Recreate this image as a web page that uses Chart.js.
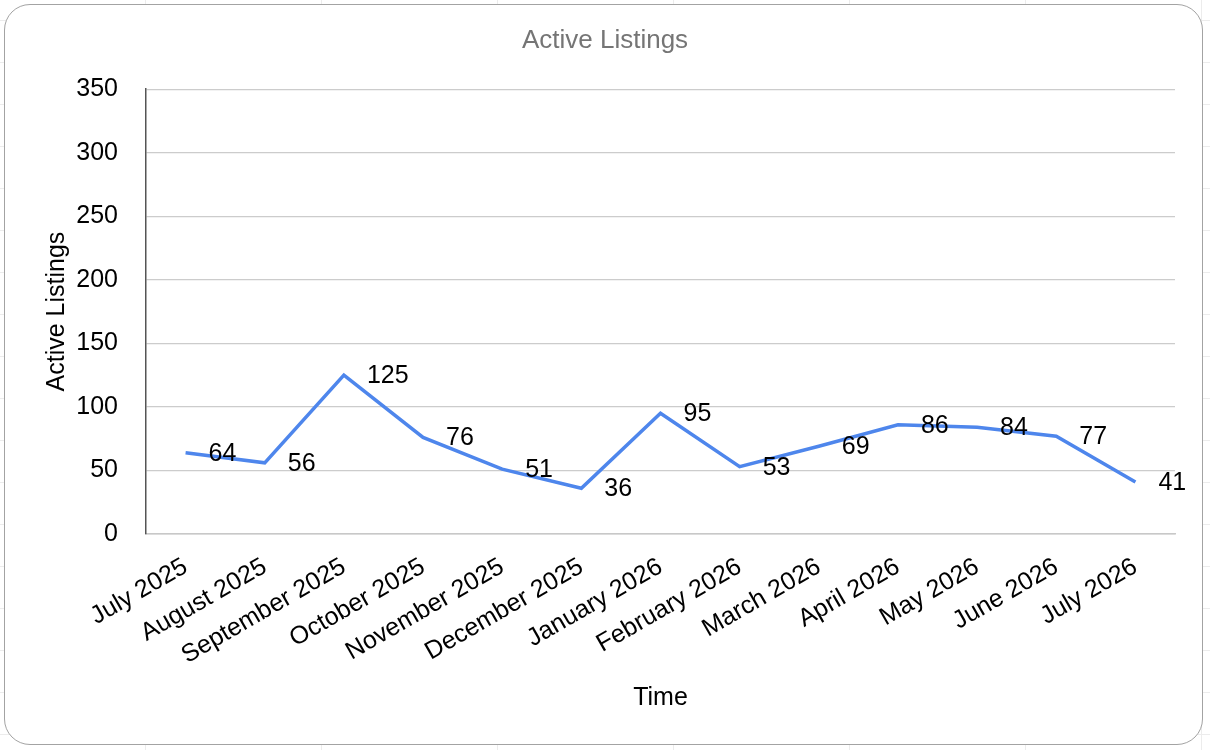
<!DOCTYPE html>
<html>
<head>
<meta charset="utf-8">
<title>Active Listings</title>
<script src="https://cdn.jsdelivr.net/npm/chart.js@4.4.1/dist/chart.umd.min.js"></script>
<style>
  html, body { margin: 0; padding: 0; }
  body {
    width: 1210px; height: 750px; position: relative; overflow: hidden;
    background-color: #fff;
    background-image:
      linear-gradient(to right, #ececec 1px, transparent 1px),
      linear-gradient(to bottom, #ececec 1px, transparent 1px);
    background-size: 176px 100%, 100% 42px;
    background-position: 145px 0, 0 20px;
  }
  #frame {
    position: absolute; left: 4px; top: 4px; width: 1199px; height: 741px;
    box-sizing: border-box; border: 1.5px solid #a3a3a3; border-radius: 26px;
    background: #fff;
  }
  #chart { position: absolute; left: 0; top: 0; }
</style>
</head>
<body>
<div id="frame"></div>
<canvas id="chart" width="1210" height="750"></canvas>
<script>
// data
const months = ['July 2025', 'August 2025', 'September 2025', 'October 2025',
                'November 2025', 'December 2025', 'January 2026', 'February 2026',
                'March 2026', 'April 2026', 'May 2026', 'June 2026', 'July 2026'];
const activeListings = [64, 56, 125, 76, 51, 36, 95, 53, 69, 86, 84, 77, 41];
const yTicks = [0, 50, 100, 150, 200, 250, 300, 350];

Chart.defaults.font.family = "'Liberation Sans', Arial, sans-serif";
Chart.defaults.color = '#000';

// value labels sit just right of each point, like the sheet does it
const valueLabels = {
  id: 'valueLabels',
  afterDatasetsDraw(chart) {
    const ctx = chart.ctx;
    const meta = chart.getDatasetMeta(0);
    ctx.save();
    ctx.font = "25px 'Liberation Sans', Arial, sans-serif";
    ctx.fillStyle = '#000';
    ctx.textAlign = 'left';
    ctx.textBaseline = 'middle';
    meta.data.forEach((pt, i) => {
      ctx.fillText(String(activeListings[i]), pt.x + 23, pt.y + 1);
    });
    ctx.restore();
  }
};

new Chart(document.getElementById('chart'), {
  type: 'line',
  data: {
    labels: months,
    datasets: [{
      label: 'Active Listings',
      data: activeListings,
      borderColor: 'rgb(78,134,236)',
      backgroundColor: 'rgb(78,134,236)',
      borderWidth: 3.5,
      pointRadius: 0,
      pointHoverRadius: 0,
      tension: 0,
    }],
  },
  options: {
    responsive: false,
    animation: false,
    layout: { padding: 0 },
    plugins: {
      legend: { display: false },
      tooltip: { enabled: false },
      title: {
        display: true,
        text: 'Active Listings',
        color: '#757575',
        font: { size: 26, weight: 'normal' },
        padding: { top: 25, bottom: 33 },
      },
    },
    scales: {
      x: {
        offset: true,
        grid: { display: false, drawTicks: false },
        border: { display: true, color: '#c8c8c8', width: 1.5 },
        ticks: {
          autoSkip: false,
          minRotation: 30,
          maxRotation: 30,
          padding: 18,
          font: { size: 25 },
          color: '#000',
        },
        title: {
          display: true,
          text: 'Time',
          font: { size: 25 },
          color: '#000',
          padding: { top: 0, bottom: 37 },
        },
        afterFit(scale) { scale.height = 216; },
      },
      y: {
        min: 0,
        max: 350,
        afterBuildTicks(scale) { scale.ticks = yTicks.map(v => ({ value: v })); },
        grid: { color: '#cccccc', lineWidth: 1.2, drawTicks: false },
        border: { display: true, color: '#555', width: 1.5 },
        ticks: {
          padding: 28,
          font: { size: 25 },
          color: '#000',
        },
        title: {
          display: true,
          text: 'Active Listings',
          font: { size: 25 },
          color: '#000',
          padding: { top: 42, bottom: 0 },
        },
        afterFit(scale) { scale.width = 146; },
      },
      // empty strip on the right so the title stays centred on the frame
      yRight: {
        position: 'right',
        min: 0,
        max: 350,
        grid: { display: false, drawTicks: false },
        border: { display: false },
        ticks: { display: false },
        afterFit(scale) { scale.width = 35; },
      },
    },
  },
  plugins: [valueLabels],
});
</script>
</body>
</html>
